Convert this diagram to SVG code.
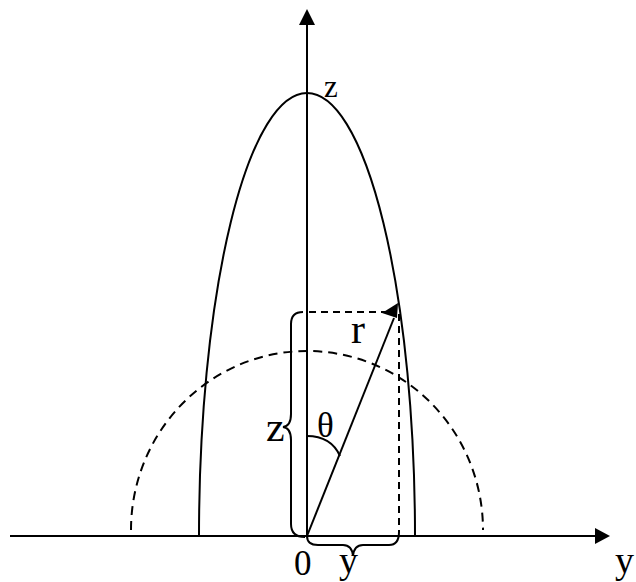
<svg xmlns="http://www.w3.org/2000/svg" width="636" height="582" viewBox="0 0 636 582">
<style>
.ln{fill:none;stroke:#000;stroke-width:2}
.ds{fill:none;stroke:#000;stroke-width:2;stroke-dasharray:7,5}
.dc{fill:none;stroke:#000;stroke-width:2;stroke-dasharray:9,6}
.t{font-family:"Liberation Serif","Times New Roman",serif;fill:#000}
</style>
<rect width="636" height="582" fill="#fff"/>
<g id="connectors">
<line class="ln" x1="10" y1="536" x2="597" y2="536"/>
<polygon points="610,536 595,528 595,544" fill="#000"/>
<line class="ln" x1="307" y1="24" x2="307" y2="537"/>
<polygon points="307,9 299,25 315,25" fill="#000"/>
</g>
<g id="ellipse">
<path class="ln" d="M199,536 A108,443 0 0 1 415,536"/>
</g>
<g id="circle">
<path class="dc" d="M131,530 A176,179 0 0 1 483,530"/>
</g>
<g id="projections">
<line class="ds" x1="309" y1="312" x2="395" y2="312"/>
<line class="ds" x1="399" y1="314" x2="399" y2="532"/>
</g>
<g id="radius">
<line class="ln" x1="307" y1="536" x2="394" y2="318"/>
<polygon points="398,303 382,313 397,318" fill="#000"/>
</g>
<g id="angle">
<path class="ln" d="M307,436 Q331,436 340,456"/>
</g>
<g id="brace-z">
<path class="ln" d="M303,312 Q291,312 291,324 L291,414 Q291,426 283,427 Q291,428 291,440 L291,524 Q291,537 305,537"/>
</g>
<g id="brace-y">
<path class="ln" d="M307,536 Q307,545 318,545 L343,545 Q352,545 353,556 Q354,545 363,545 L389,545 Q399,545 399,532"/>
</g>
<g id="labels">
<text class="t" x="324" y="97" font-size="31">z</text>
<text class="t" x="266" y="441" font-size="42">z</text>
<text class="t" x="317" y="437" font-size="35">θ</text>
<text class="t" x="351" y="343" font-size="42">r</text>
<text class="t" x="294" y="575" font-size="35">0</text>
<text class="t" x="339" y="573" font-size="38">y</text>
<text class="t" x="615" y="573" font-size="38">y</text>
</g>
</svg>
